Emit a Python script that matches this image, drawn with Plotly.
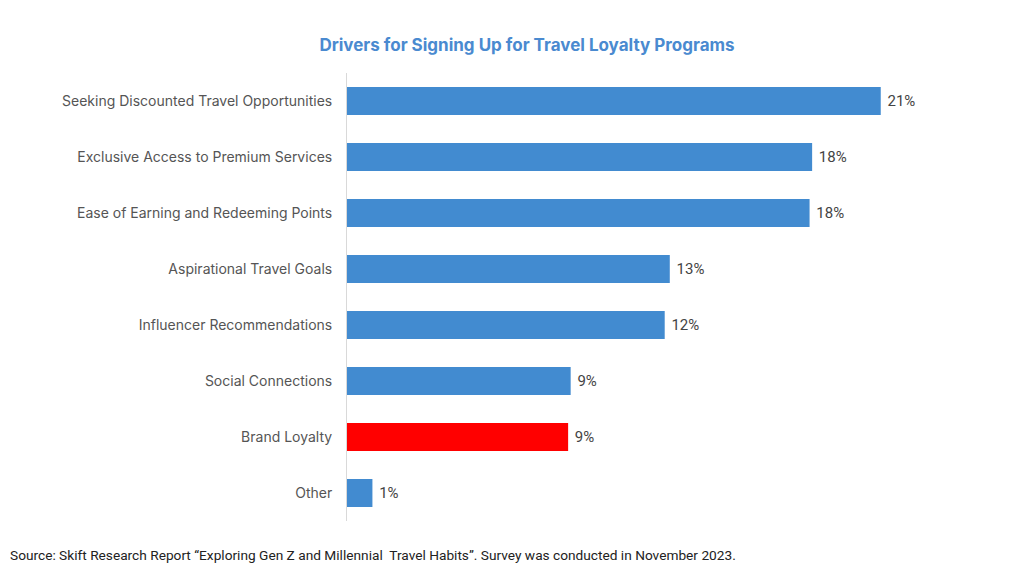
import plotly.graph_objects as go

CATEGORIES = [
    "Seeking Discounted Travel Opportunities",
    "Exclusive Access to Premium Services",
    "Ease of Earning and Redeeming Points",
    "Aspirational Travel Goals",
    "Influencer Recommendations",
    "Social Connections",
    "Brand Loyalty",
    "Other",
]
VALUES = [21.0, 18.3, 18.2, 12.7, 12.5, 8.8, 8.7, 1.0]
LABELS = ["21%", "18%", "18%", "13%", "12%", "9%", "9%", "1%"]
HIGHLIGHT = "Brand Loyalty"

BLUE = "#428bd0"
RED = "#ff0000"

colors = [RED if c == HIGHLIGHT else BLUE for c in CATEGORIES]

# page has an 8px body margin, so figure coords = page coords - 8
W, H = 1024, 573
L, R, T, B = 339, 75, 65, 60

fig = go.Figure()
fig.add_bar(
    x=VALUES,
    y=CATEGORIES,
    orientation="h",
    marker=dict(color=colors, line=dict(width=0)),
    width=0.5,
    text=[" " + t for t in LABELS],
    textposition="outside",
    textfont=dict(family="Roboto, Arial", size=15, color="#444444"),
    cliponaxis=False,
    hoverinfo="x+y",
)

fig.update_layout(
    width=W,
    height=H,
    template="plotly_white",
    plot_bgcolor="white",
    paper_bgcolor="white",
    margin=dict(l=L, r=R, t=T, b=B),
    showlegend=False,
    font=dict(family="Inter, Roboto, Arial", size=14, color="#555555"),
    title=dict(
        text="<b>Drivers for Signing Up for Travel Loyalty Programs</b>",
        x=519 / W,
        xanchor="center",
        y=1 - 37 / H,
        yanchor="middle",
        font=dict(family="Inter, Roboto, Arial", size=17, color="#4a8ad0"),
    ),
    bargap=0.5,
)
fig.update_xaxes(
    range=[0, 24],
    showgrid=False,
    zeroline=False,
    showticklabels=False,
    showline=False,
)
fig.update_yaxes(
    categoryorder="array",
    categoryarray=CATEGORIES[::-1],
    showgrid=False,
    zeroline=False,
    showline=True,
    linecolor="#d9d9d9",
    linewidth=1,
    ticks="",
    ticklabelstandoff=11,
    tickfont=dict(family="Inter, Roboto, Arial", size=14, color="#555555"),
)

plot_w = W - L - R
plot_h = H - T - B
fig.add_annotation(
    text="Source: Skift Research Report \u201cExploring Gen Z and Millennial  Travel Habits\u201d. Survey was conducted in November 2023.",
    xref="paper",
    yref="paper",
    x=-L / plot_w,
    y=-(547 - (H - B)) / plot_h,
    xanchor="left",
    yanchor="middle",
    showarrow=False,
    font=dict(family="Roboto, Arial", size=13.7, color="#222222"),
)

fig.write_html("out.html")
